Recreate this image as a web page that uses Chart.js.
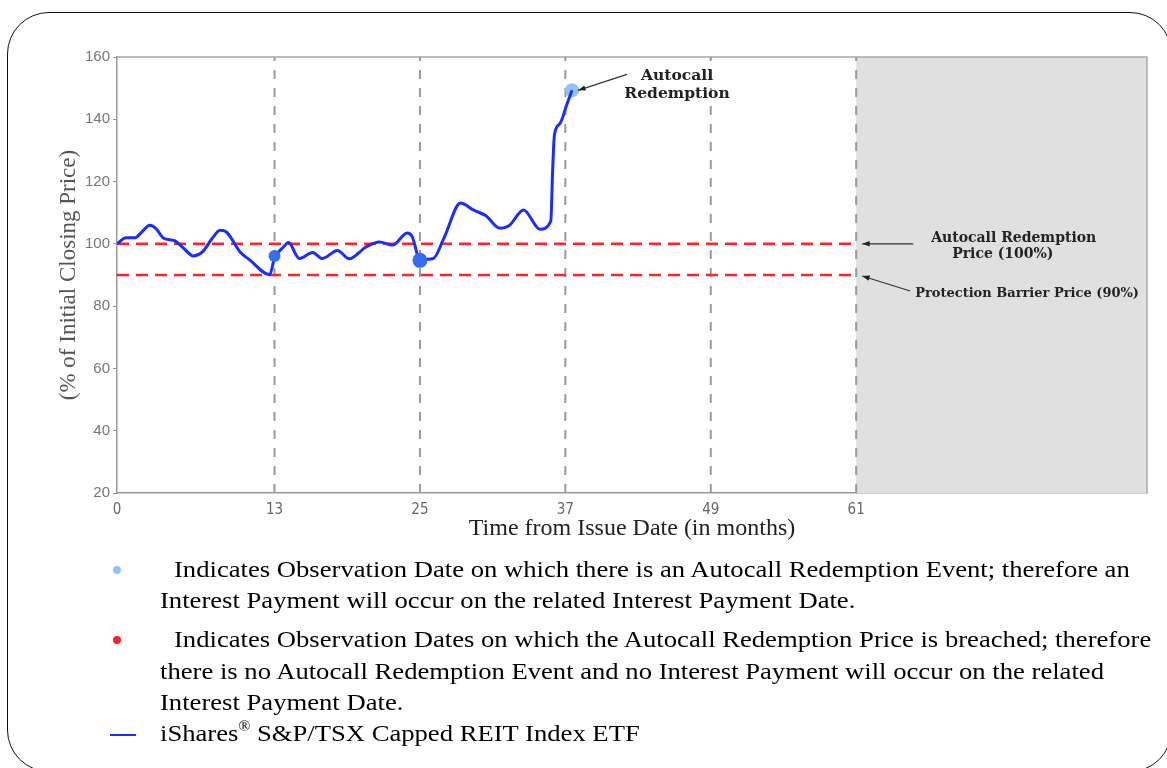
<!DOCTYPE html>
<html>
<head>
<meta charset="utf-8">
<script src="https://cdn.jsdelivr.net/npm/chart.js@4"></script>
<style>
  html, body { margin: 0; padding: 0; background: #fff; }
  body { width: 1167px; height: 768px; position: relative; overflow: hidden; }
  #frame {
    position: absolute; left: 7px; top: 12px; width: 1163px; height: 758px;
    border: 1.5px solid #111; border-radius: 42px; pointer-events: none;
  }
  #chartBox { position: absolute; left: 0; top: 0; width: 1167px; height: 545px; }
  #legend {
    position: absolute; left: 0; top: 553px; width: 1167px;
    font-family: "Liberation Serif", "Times New Roman", serif; font-size: 24px; color: #000;
  }
  .row { position: absolute; white-space: nowrap; line-height: 31px; transform: scaleX(1.11); transform-origin: left center; }
  .dot { position: absolute; width: 8px; height: 8px; border-radius: 50%; }
  sup { font-size: 14px; vertical-align: 10px; line-height: 0; }
</style>
</head>
<body>
<div id="chartBox"><canvas id="priceChart"></canvas></div>
<div id="frame"></div>
<div id="legend">
  <div class="dot" style="left:113px;top:13px;background:#8fc3f4;"></div>
  <div class="row" style="left:174px;top:1px;">Indicates Observation Date on which there is an Autocall Redemption Event; therefore an</div>
  <div class="row" style="left:160px;top:32px;">Interest Payment will occur on the related Interest Payment Date.</div>
  <div class="dot" style="left:113px;top:83px;background:#ff2020;"></div>
  <div class="row" style="left:174px;top:71px;">Indicates Observation Dates on which the Autocall Redemption Price is breached; therefore</div>
  <div class="row" style="left:160px;top:103px;">there is no Autocall Redemption Event and no Interest Payment will occur on the related</div>
  <div class="row" style="left:160px;top:134px;">Interest Payment Date.</div>
  <div style="position:absolute;left:110px;top:181px;width:26px;height:2px;background:#1a2dff;"></div>
  <div class="row" style="left:160px;top:165px;">iShares<sup>®</sup> S&amp;P/TSX Capped REIT Index ETF</div>
</div>
<script>
  // Price path (% of initial closing price) by month from issue date
  const months = [0, 0.75, 1.5, 2.0, 2.7, 3.2, 3.85, 4.75, 5.5, 6.3, 7.05, 7.85, 8.5, 9.0, 10.2, 10.9,
    12.6, 13.0, 13.7, 14.15, 15.05, 16.15, 16.95, 18.2, 19.15, 20.55, 21.65, 22.75, 23.95, 24.35, 25.0,
    26.1, 27.0, 28.35, 29.4, 30.45, 31.6, 32.35, 33.55, 34.9, 35.8, 35.95, 36.1, 36.55, 37.15, 37.55];
  const prices = [100, 102, 102, 103.6, 106, 105, 101.8, 101, 98.6, 96.1, 97.4, 101.7, 104.4, 103.9, 97.2, 95,
    90.1, 95.5, 98.8, 100.4, 95.3, 97.2, 95.3, 97.9, 95.2, 99.0, 100.6, 99.6, 103.5, 102.4, 95.0,
    95.3, 102, 113.1, 110.9, 109, 105, 105.8, 110.9, 104.7, 107.4, 123.5, 135, 138.6, 145.1, 149.3];

  // Observation dates
  const observationMonths = [13, 25, 37, 49, 61];
  const tickMonths = [0, 13, 25, 37, 49, 61];
  const breachedMonths = [13, 25];
  const breachedPrices = [96.1, 94.7];
  const autocallMonths = [37.55];
  const autocallPrices = [149.3];

  const autocallLevel = 100;
  const barrierLevel = 90;
  const yTicks = [20, 40, 60, 80, 100, 120, 140, 160];
  const lastMonth = 61;
  const axisMax = 85;

  const toPoints = (xs, ys) => xs.map((x, i) => ({ x: x, y: ys[i] }));

  const verticalSets = observationMonths.map(m => ({
    data: [{ x: m, y: 20 }, { x: m, y: 160 }],
    borderColor: '#9a9a9a', borderWidth: 2, borderDash: [9, 9],
    pointRadius: 0, tension: 0
  }));

  // shaded zone after the last observation date + plot frame
  const shadePlugin = {
    id: 'shade',
    beforeDatasetsDraw(chart) {
      const { ctx, chartArea, scales } = chart;
      const x61 = scales.x.getPixelForValue(lastMonth);
      ctx.save();
      ctx.fillStyle = '#e0e0e0';
      ctx.fillRect(x61, chartArea.top, chartArea.right - x61, chartArea.bottom - chartArea.top);
      ctx.strokeStyle = '#a8a8a8';
      ctx.lineWidth = 1.5;
      ctx.beginPath();
      ctx.moveTo(chartArea.left, chartArea.top);
      ctx.lineTo(chartArea.right, chartArea.top);
      ctx.lineTo(chartArea.right, chartArea.bottom);
      ctx.stroke();
      ctx.restore();
    }
  };

  function arrow(ctx, x1, y1, x2, y2) {
    const ang = Math.atan2(y2 - y1, x2 - x1);
    ctx.beginPath();
    ctx.moveTo(x1, y1);
    ctx.lineTo(x2, y2);
    ctx.stroke();
    ctx.beginPath();
    ctx.moveTo(x2, y2);
    ctx.lineTo(x2 - 8 * Math.cos(ang - 0.35), y2 - 8 * Math.sin(ang - 0.35));
    ctx.lineTo(x2 - 8 * Math.cos(ang + 0.35), y2 - 8 * Math.sin(ang + 0.35));
    ctx.closePath();
    ctx.fill();
  }

  const notePlugin = {
    id: 'notes',
    afterDraw(chart) {
      const { ctx, scales } = chart;
      const x = scales.x, y = scales.y;
      ctx.save();
      ctx.strokeStyle = '#333';
      ctx.fillStyle = '#222';
      ctx.lineWidth = 1.2;
      ctx.textBaseline = 'middle';

      // peak
      ctx.font = 'bold 15.5px "DejaVu Serif", serif';
      const px = x.getPixelForValue(autocallMonths[0]) + 6;
      const py = y.getPixelForValue(autocallPrices[0]);
      arrow(ctx, px + 49, py - 16, px, py);
      ctx.textAlign = 'center';
      ctx.fillText('Autocall', px + 99, py - 14);
      ctx.fillText('Redemption', px + 99, py + 4);

      // right side labels
      ctx.font = 'bold 14px "DejaVu Serif", serif';
      const rx = x.getPixelForValue(lastMonth) + 6;
      const y100 = y.getPixelForValue(autocallLevel);
      const y90 = y.getPixelForValue(barrierLevel);
      arrow(ctx, rx + 51, y100, rx, y100);
      arrow(ctx, rx + 48, y90 + 16, rx, y90 + 1);
      ctx.textAlign = 'left';
      ctx.fillText('Autocall Redemption', rx + 69, y100 - 5);
      ctx.fillText('Price (100%)', rx + 90, y100 + 11);
      ctx.font = 'bold 13px "DejaVu Serif", serif';
      ctx.fillText('Protection Barrier Price (90%)', rx + 53, y90 + 19);
      ctx.restore();
    }
  };

  new Chart(document.getElementById('priceChart'), {
    type: 'line',
    data: {
      datasets: [
        {
          data: toPoints(breachedMonths, breachedPrices),
          showLine: false, pointRadius: [6, 7.5], pointBackgroundColor: '#356cf0',
          pointBorderWidth: 0
        },
        {
          data: toPoints(months, prices),
          borderColor: '#1a2dff', borderWidth: 3, pointRadius: 0,
          cubicInterpolationMode: 'monotone', fill: false
        },
        {
          data: toPoints(autocallMonths, autocallPrices),
          showLine: false, pointRadius: 7, pointBackgroundColor: '#8fc3f4',
          pointBorderWidth: 0
        },
        {
          data: [{ x: 0, y: autocallLevel }, { x: lastMonth, y: autocallLevel }],
          borderColor: '#ff2424', borderWidth: 2.5, borderDash: [12, 7], pointRadius: 0
        },
        {
          data: [{ x: 0, y: barrierLevel }, { x: lastMonth, y: barrierLevel }],
          borderColor: '#ff2424', borderWidth: 2.5, borderDash: [12, 7], pointRadius: 0
        },
        ...verticalSets
      ]
    },
    options: {
      responsive: true,
      maintainAspectRatio: false,
      animation: false,
      layout: { padding: { top: 57, right: 20, left: 0, bottom: 0 } },
      plugins: { legend: { display: false }, tooltip: { enabled: false } },
      scales: {
        x: {
          type: 'linear', min: 0, max: axisMax,
          afterBuildTicks: s => { s.ticks = tickMonths.map(v => ({ value: v })); },
          afterFit: s => { s.height = 52; },
          grid: { display: false },
          border: { display: true, color: '#999', width: 1.5 },
          ticks: { color: '#666', padding: 0, maxRotation: 0, autoSkip: false,
            font: { family: '"Liberation Sans Narrow", "DejaVu Sans Condensed", sans-serif', size: 15 } },
          title: { display: true, text: 'Time from Issue Date (in months)', color: '#222',
            font: { family: '"Liberation Serif", serif', size: 24 }, padding: { top: 0, bottom: 2 } }
        },
        y: {
          min: 20, max: 160,
          afterBuildTicks: s => { s.ticks = yTicks.map(v => ({ value: v })); },
          afterFit: s => { s.width = 117; },
          grid: { drawOnChartArea: false, drawTicks: true, tickLength: 4, color: '#999' },
          border: { display: true, color: '#999', width: 1.5 },
          ticks: { color: '#777', padding: 3,
            font: { family: '"Liberation Sans", Arial, sans-serif', size: 15 } },
          title: { display: true, text: '(% of Initial Closing Price)', color: '#555',
            font: { family: '"Liberation Serif", serif', size: 23 }, padding: { top: 55, bottom: 0 } }
        }
      }
    },
    plugins: [shadePlugin, notePlugin]
  });
</script>
</body>
</html>
